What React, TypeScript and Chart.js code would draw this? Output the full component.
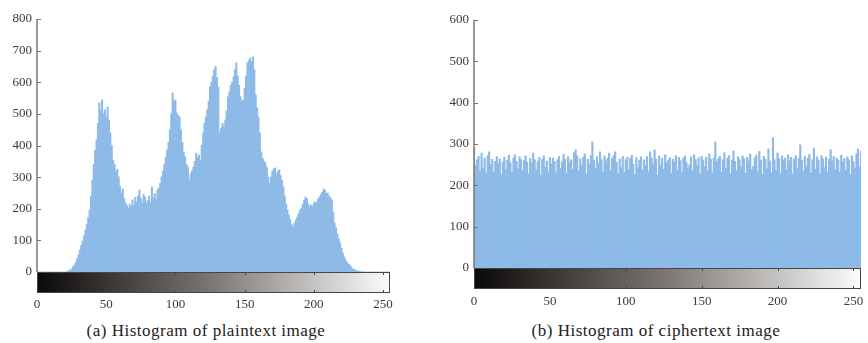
import React, { useEffect, useRef } from 'react';
import { Chart, registerables } from 'chart.js';

Chart.register(...registerables);

// Grey levels 0..255 (histogram bins)
const BINS: number[] = Array.from({ length: 256 }, (_, i) => i);

// Plaintext image histogram (counts per grey level)
const PLAIN_COUNTS: number[] = [
  0, 0, 0, 0, 0, 0, 0, 0, 0, 0, 0, 0, 0, 0, 0, 0,
  0, 0, 0, 0, 0, 0, 2, 4, 6, 10, 16, 22, 30, 42, 55, 70,
  85, 98, 115, 133, 150, 172, 196, 240, 291, 340, 385, 418, 470, 535, 510, 544,
  500, 513, 490, 522, 480, 440, 400, 354, 340, 318, 325, 301, 270, 250, 262, 232,
  218, 210, 202, 215, 206, 228, 212, 236, 222, 240, 259, 232, 218, 245, 237, 218,
  226, 240, 220, 269, 235, 248, 230, 259, 265, 280, 301, 318, 340, 362, 386, 410,
  449, 500, 566, 540, 544, 503, 495, 490, 449, 410, 380, 364, 340, 332, 291, 310,
  320, 332, 350, 376, 362, 370, 354, 400, 440, 470, 490, 513, 540, 585, 600, 620,
  640, 650, 615, 585, 440, 455, 470, 460, 481, 510, 554, 570, 590, 600, 617, 640,
  661, 620, 590, 554, 540, 544, 580, 620, 661, 670, 677, 665, 680, 640, 560, 520,
  490, 440, 380, 360, 350, 345, 330, 300, 281, 300, 318, 326, 329, 310, 318, 323,
  305, 290, 269, 240, 215, 196, 180, 165, 150, 142, 155, 165, 174, 185, 195, 202,
  215, 228, 237, 232, 215, 206, 212, 208, 218, 222, 218, 230, 237, 245, 252, 262,
  259, 248, 250, 240, 235, 228, 190, 155, 140, 120, 105, 92, 75, 60, 48, 38,
  30, 25, 22, 16, 10, 8, 6, 4, 3, 2, 1, 1, 0, 0, 0, 0,
  0, 0, 0, 0, 0, 0, 0, 0, 0, 0, 0, 0, 0, 0, 0, 0,
];

// Ciphertext image histogram (counts per grey level)
const CIPHER_COUNTS: number[] = [
  290, 248, 262, 270, 235, 278, 241, 266, 229, 272, 281, 250, 263, 232, 258, 270,
  252, 264, 226, 257, 268, 238, 261, 273, 255, 231, 266, 274, 258, 240, 269, 262,
  236, 260, 271, 256, 228, 265, 254, 278, 262, 237, 257, 268, 225, 263, 271, 244,
  259, 233, 267, 252, 266, 258, 230, 262, 270, 241, 257, 275, 263, 229, 269, 256,
  262, 239, 279, 286, 271, 234, 264, 249, 268, 276, 227, 263, 250, 272, 305, 261,
  240, 269, 254, 281, 262, 232, 271, 259, 266, 278, 236, 265, 272, 281, 256, 228,
  264, 243, 270, 231, 262, 268, 238, 266, 273, 251, 226, 267, 243, 261, 269, 237,
  262, 248, 270, 233, 281, 266, 252, 286, 263, 224, 271, 249, 265, 239, 274, 254,
  261, 267, 229, 263, 257, 272, 237, 268, 260, 231, 266, 271, 255, 242, 250, 269,
  236, 274, 263, 249, 267, 227, 270, 261, 245, 268, 235, 276, 263, 230, 266, 305,
  257, 264, 270, 232, 262, 279, 241, 266, 272, 228, 261, 283, 258, 236, 269, 262,
  244, 271, 264, 229, 268, 259, 276, 238, 246, 267, 273, 233, 282, 261, 227, 270,
  263, 240, 288, 259, 231, 315, 262, 236, 278, 265, 229, 271, 260, 266, 238, 274,
  259, 268, 227, 263, 272, 241, 265, 298, 261, 234, 270, 246, 266, 275, 230, 262,
  290, 239, 269, 261, 228, 272, 264, 243, 268, 232, 263, 286, 259, 270, 237, 266,
  261, 231, 273, 257, 265, 236, 269, 262, 226, 271, 258, 242, 276, 288, 245, 283,
];

const X_TICKS: number[] = [0, 50, 100, 150, 200, 250];
const PLAIN_Y_TICKS: number[] = [0, 100, 200, 300, 400, 500, 600, 700, 800];
const CIPHER_Y_TICKS: number[] = [0, 100, 200, 300, 400, 500, 600];

const CAPTION_A = '(a) Histogram of plaintext image';
const CAPTION_B = '(b) Histogram of ciphertext image';

const FONT = "'Liberation Serif', 'Times New Roman', serif";

const decorPlugin = {
  id: 'decor',
  afterDraw(chart: any, _args: any, opts: any) {
    const { ctx, chartArea: a, scales } = chart;
    const x = scales.x;
    const y = scales.y;
    ctx.save();
    // y axis line
    ctx.strokeStyle = '#7d7570';
    ctx.lineWidth = 1.5;
    ctx.beginPath();
    ctx.moveTo(a.left, a.top);
    ctx.lineTo(a.left, a.bottom);
    ctx.stroke();
    // inward y ticks
    ctx.lineWidth = 1;
    ctx.beginPath();
    for (const t of opts.yTicks) {
      const py = Math.round(y.getPixelForValue(t)) + 0.5;
      ctx.moveTo(a.left, py);
      ctx.lineTo(a.left + 4, py);
    }
    ctx.stroke();
    // colour bar
    const h = opts.barH;
    const g = ctx.createLinearGradient(a.left, 0, a.right, 0);
    g.addColorStop(0, '#0b0908');
    g.addColorStop(0.5, '#7d7874');
    g.addColorStop(1, '#fcfcfc');
    ctx.fillStyle = g;
    ctx.fillRect(a.left, a.bottom, a.right - a.left, h);
    ctx.strokeStyle = '#4a4542';
    ctx.lineWidth = 1;
    ctx.strokeRect(a.left + 0.5, a.bottom + 0.5, a.right - a.left - 1, h - 1);
    ctx.beginPath();
    for (const t of opts.xTicks) {
      const px = Math.round(x.getPixelForValue(t)) + 0.5;
      ctx.moveTo(px, a.bottom);
      ctx.lineTo(px, a.bottom + 3);
      ctx.moveTo(px, a.bottom + h);
      ctx.lineTo(px, a.bottom + h - 3);
    }
    ctx.stroke();
    ctx.restore();
  },
};

type HistProps = {
  counts: number[];
  yTicks: number[];
  left: number;
  width: number;
  height: number;
  yAxisWidth: number;
  xAxisHeight: number;
  padTop: number;
  padRight: number;
  labelPad: number;
};

function Hist(p: HistProps) {
  const ref = useRef<HTMLCanvasElement | null>(null);
  useEffect(() => {
    if (!ref.current) return;
    const yMax = p.yTicks[p.yTicks.length - 1];
    const chart = new Chart(ref.current, {
      type: 'bar',
      data: {
        datasets: [
          {
            data: p.counts.map((v, i) => ({ x: BINS[i], y: v })),
            backgroundColor: '#8dbae6',
            borderWidth: 0,
            barPercentage: 1,
            categoryPercentage: 1,
          } as any,
        ],
      },
      options: {
        responsive: false,
        animation: false,
        events: [],
        layout: { padding: { top: p.padTop, right: p.padRight, left: 0, bottom: 0 } },
        plugins: {
          legend: { display: false },
          tooltip: { enabled: false },
          decor: { yTicks: p.yTicks, xTicks: X_TICKS, barH: 21 },
        } as any,
        scales: {
          x: {
            type: 'linear',
            min: 0,
            max: 255,
            offset: false,
            grid: { display: false, drawTicks: false },
            border: { display: false },
            ticks: {
              padding: p.labelPad,
              color: '#3a3a3a',
              font: { family: FONT, size: 13 },
              maxRotation: 0,
            },
            afterBuildTicks: (s: any) => {
              s.ticks = X_TICKS.map((v) => ({ value: v }));
            },
            afterFit: (s: any) => {
              s.height = p.xAxisHeight;
              s.paddingLeft = 0;
              s.paddingRight = 0;
            },
          },
          y: {
            type: 'linear',
            min: 0,
            max: yMax,
            grid: { display: false, drawTicks: false },
            border: { display: false },
            ticks: {
              padding: 5,
              color: '#3a3a3a',
              font: { family: FONT, size: 13 },
            },
            afterBuildTicks: (s: any) => {
              s.ticks = p.yTicks.map((v) => ({ value: v }));
            },
            afterFit: (s: any) => {
              s.width = p.yAxisWidth;
              s.paddingTop = 0;
              s.paddingBottom = 0;
            },
          },
        },
      } as any,
      plugins: [decorPlugin as any],
    });
    return () => chart.destroy();
  }, []);
  return (
    <div style={{ position: 'absolute', left: p.left, top: 0, width: p.width, height: p.height }}>
      <canvas ref={ref} width={p.width} height={p.height} style={{ display: 'block' }} />
    </div>
  );
}

export default function App() {
  const captionStyle: React.CSSProperties = {
    position: 'absolute',
    top: 320,
    fontFamily: FONT,
    fontSize: 17,
    letterSpacing: '0.5px',
    color: '#222',
    whiteSpace: 'nowrap',
    transform: 'translateX(-50%)',
    lineHeight: '22px',
  };
  return (
    <div style={{ position: 'absolute', left: 0, top: 0, width: 868, height: 343, background: '#fff', overflow: 'hidden' }}>
      <Hist
        counts={PLAIN_COUNTS}
        yTicks={PLAIN_Y_TICKS}
        left={0}
        width={400}
        height={315}
        yAxisWidth={37}
        xAxisHeight={43}
        padTop={19}
        padRight={10}
        labelPad={25}
      />
      <Hist
        counts={CIPHER_COUNTS}
        yTicks={CIPHER_Y_TICKS}
        left={434}
        width={434}
        height={315}
        yAxisWidth={40}
        xAxisHeight={47}
        padTop={20}
        padRight={7}
        labelPad={26}
      />
      <div style={{ ...captionStyle, left: 206 }}>{CAPTION_A}</div>
      <div style={{ ...captionStyle, left: 656 }}>{CAPTION_B}</div>
    </div>
  );
}
